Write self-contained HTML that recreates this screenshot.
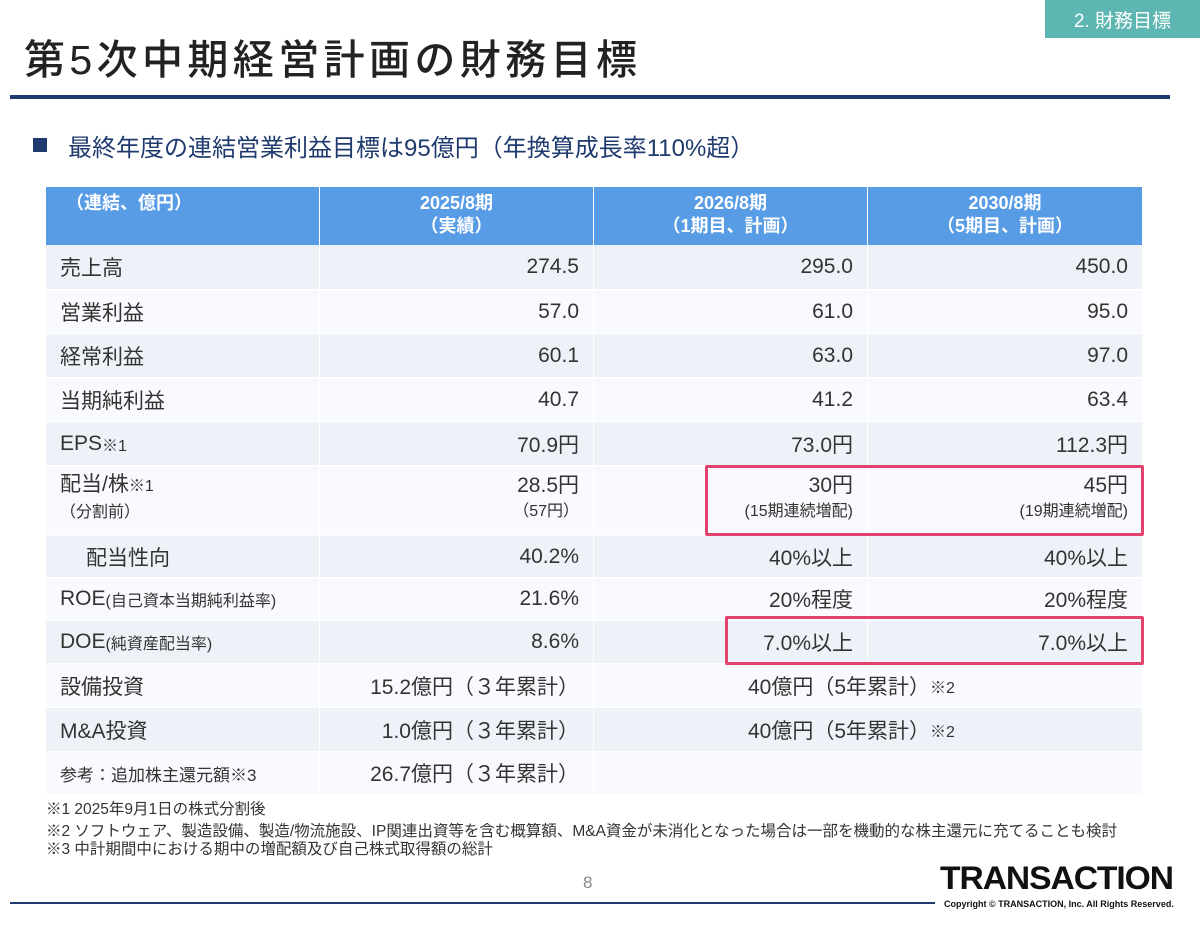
<!DOCTYPE html>
<html><head><meta charset="utf-8">
<style>
*{margin:0;padding:0;box-sizing:border-box}
body{width:1200px;height:925px;background:#fff;position:relative;overflow:hidden;font-family:"Liberation Sans","Noto Sans CJK JP",sans-serif;color:#333}
.a{position:absolute}
.cell{position:absolute;display:flex;align-items:center;font-size:21px;color:#333;white-space:nowrap}
.r{justify-content:flex-end;padding-right:14px}
.l{padding-left:14px}
.hd{position:absolute;background:#589ce6;color:#fff;font-size:18px;font-weight:bold;text-align:center;line-height:23px;padding-top:5px}
.sm{font-size:16px}
.fn{position:absolute;left:46px;font-size:15.5px;color:#333;white-space:nowrap}
</style></head><body>
<div class="a" style="left:1045px;top:0;width:155px;height:38px;background:#5db6b1;color:#fff;font-size:19px;display:flex;align-items:center;justify-content:center">2. 財務目標</div>
<div class="a" style="left:24px;top:26px;font-size:41px;letter-spacing:4.4px;color:#222;font-weight:500;white-space:nowrap">第5次中期経営計画の財務目標</div>
<div class="a" style="left:10px;top:95px;width:1160px;height:4px;background:#1f3a6e"></div>
<div class="a" style="left:33px;top:138px;width:14px;height:14px;background:#1f3a6e"></div>
<div class="a" style="left:68px;top:128px;font-size:24px;color:#1f3a6e;white-space:nowrap">最終年度の連結営業利益目標は95億円（年換算成長率110%超）</div>

<div id="tbl">
<div class="hd" style="left:46px;top:187px;width:273px;height:58px;text-align:left;padding-left:20px">（連結、億円）</div>
<div class="hd" style="left:320px;top:187px;width:273px;height:58px">2025/8期<br>（実績）</div>
<div class="hd" style="left:594px;top:187px;width:273px;height:58px">2026/8期<br>（1期目、計画）</div>
<div class="hd" style="left:868px;top:187px;width:274px;height:58px">2030/8期<br>（5期目、計画）</div>
</div>

<div class="a" style="left:705px;top:465px;width:439px;height:71px;border:3px solid #e2436c;border-radius:2px"></div>
<div class="a" style="left:725px;top:616px;width:419px;height:49px;border:3px solid #e2436c;border-radius:2px"></div>

<div class="fn" style="top:797px">※1 2025年9月1日の株式分割後</div>
<div class="fn" style="top:819px">※2 ソフトウェア、製造設備、製造/物流施設、IP関連出資等を含む概算額、M&amp;A資金が未消化となった場合は一部を機動的な株主還元に充てることも検討</div>
<div class="fn" style="top:837px">※3 中計期間中における期中の増配額及び自己株式取得額の総計</div>
<div class="a" style="left:583px;top:873px;font-size:17px;color:#888">8</div>
<div class="a" style="left:10px;top:902px;width:925px;height:2px;background:#1f3a6e"></div>
<div class="a" style="left:940px;top:860px;font-size:32px;font-weight:bold;color:#111;letter-spacing:-1px;transform:scaleX(1.05);transform-origin:left">TRANSACTION</div>
<div class="a" style="left:944px;top:899px;font-size:9px;font-weight:bold;color:#111;white-space:nowrap">Copyright © TRANSACTION, Inc. All Rights Reserved.</div>

<script>
const rowLabels=["売上高","営業利益","経常利益","当期純利益","EPS","配当/株","配当性向","ROE","DOE","設備投資","M&A投資","参考：追加株主還元額※3"];
const col2025=["274.5","57.0","60.1","40.7","70.9円","28.5円","40.2%","21.6%","8.6%"];
const col2026=["295.0","61.0","63.0","41.2","73.0円","30円","40%以上","20%程度","7.0%以上"];
const col2030=["450.0","95.0","97.0","63.4","112.3円","45円","40%以上","20%程度","7.0%以上"];
const rowTops=[245,290,334,378,422,466,536,578,621,664,708,752,795];
const root=document.getElementById('tbl');
function mk(x,y,w,h,cls,html,name,bg){
  const d=document.createElement('div');
  d.className='cell '+cls;
  d.style.cssText=`left:${x}px;top:${y}px;width:${w}px;height:${h}px;background:${bg}`;
  d.innerHTML=html;
  
  
  root.appendChild(d);return d;
}
const xs=[46,320,594,868],ws=[273,273,273,274];
rowLabels.forEach((lab,i)=>{
  const y=rowTops[i],h=rowTops[i+1]-y-1;
  const bg=i%2===0?'#edf2f9':'#f8fafd';
  let labHtml=lab;
  if(lab==="EPS")labHtml='EPS<span class="sm">※1</span>';
  if(lab==="配当/株")labHtml='<div style="line-height:24px;margin-top:-4px">配当/株<span class="sm">※1</span><br><span class="sm">（分割前）</span></div>';
  if(lab==="配当性向")labHtml='<span style="padding-left:26px">配当性向</span>';
  if(lab==="ROE")labHtml='ROE<span class="sm">(自己資本当期純利益率)</span>';
  if(lab==="DOE")labHtml='DOE<span class="sm">(純資産配当率)</span>';
  const lc=mk(xs[0],y,ws[0],h,'l',labHtml,'row-label',bg);
  if(i===11)lc.style.fontSize='17px';
  if(i<9){
    const vals=[col2025[i],col2026[i],col2030[i]];
    const subs=["（57円）","(15期連続増配)","(19期連続増配)"];
    vals.forEach((v,j)=>{
      let html=v;
      if(i===5)html=`<div style="text-align:right;line-height:24px;margin-top:-4px">${v}<br><span class="sm">${subs[j]}</span></div>`;
      mk(xs[j+1],y,ws[j+1],h,'r',html,'value-cell',bg);
    });
  }else{
    const t2=["15.2億円（３年累計）","1.0億円（３年累計）","26.7億円（３年累計）"][i-9];
    mk(xs[1],y,ws[1],h,'r',t2,'value-cell-3yr',bg);
    const t3=i<11?'40億円（5年累計）<span class="sm">※2</span>':'';
    const c=mk(xs[2],y,ws[2]+ws[3]+1,h,'',t3,'value-cell-5yr',bg);
    c.style.paddingLeft='154px';
  }
});
</script>
</body></html>
